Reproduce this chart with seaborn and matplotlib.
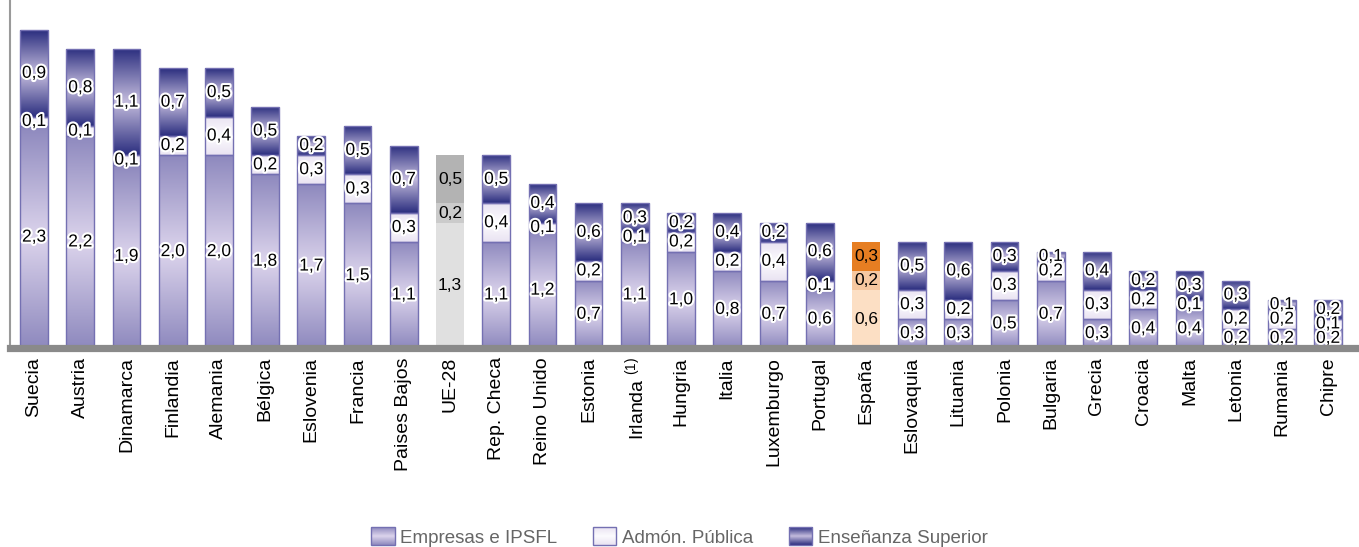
import numpy as np
import pandas as pd
import matplotlib
matplotlib.use("Agg")
import matplotlib.pyplot as plt
import seaborn as sns
from matplotlib.colors import LinearSegmentedColormap
from matplotlib import patheffects as pe
from matplotlib.legend_handler import HandlerBase
from matplotlib.patches import Rectangle
from matplotlib.image import BboxImage
from matplotlib.transforms import Bbox, TransformedBbox

# Gasto en I+D (% del PIB) por sector de ejecución
paises = ["Suecia", "Austria", "Dinamarca", "Finlandia", "Alemania", "Bélgica",
          "Eslovenia", "Francia", "Paises Bajos", "UE-28", "Rep. Checa",
          "Reino Unido", "Estonia", "Irlanda", "Hungria", "Italia", "Luxemburgo",
          "Portugal", "España", "Eslovaquia", "Lituania", "Polonia", "Bulgaria",
          "Grecia", "Croacia", "Malta", "Letonia", "Rumania", "Chipre"]
etiquetas = [p if p != "Irlanda" else r"Irlanda $^{(1)}$" for p in paises]
empresas = [2.3, 2.2, 1.9, 2.0, 2.0, 1.8, 1.7, 1.5, 1.1, 1.3, 1.1, 1.2, 0.7, 1.1,
            1.0, 0.8, 0.7, 0.6, 0.6, 0.3, 0.3, 0.5, 0.7, 0.3, 0.4, 0.4, 0.2, 0.2, 0.2]
admon = [0.1, 0.1, 0.1, 0.2, 0.4, 0.2, 0.3, 0.3, 0.3, 0.2, 0.4, 0.1, 0.2, 0.1,
         0.2, 0.2, 0.4, 0.1, 0.2, 0.3, 0.2, 0.3, 0.2, 0.3, 0.2, 0.1, 0.2, 0.2, 0.1]
ensenanza = [0.9, 0.8, 1.1, 0.7, 0.5, 0.5, 0.2, 0.5, 0.7, 0.5, 0.5, 0.4, 0.6, 0.3,
             0.2, 0.4, 0.2, 0.6, 0.3, 0.5, 0.6, 0.3, 0.1, 0.4, 0.2, 0.3, 0.3, 0.1, 0.2]
series = ["Empresas e IPSFL", "Admón. Pública", "Enseñanza Superior"]

sns.set_style("white")
plt.rcParams["font.family"] = ["Liberation Sans", "DejaVu Sans"]
plt.rcParams["mathtext.fontset"] = "custom"
plt.rcParams["mathtext.rm"] = "Liberation Sans"
plt.rcParams["mathtext.it"] = "Liberation Sans"

EDGE = "#7470b2"
cmaps = [
    LinearSegmentedColormap.from_list("emp", ["#8e89be", "#dcd4ec", "#8e89be"]),
    LinearSegmentedColormap.from_list("adm", ["#e9e3f2", "#fcfbfe", "#e9e3f2"]),
    LinearSegmentedColormap.from_list("ens", ["#2b2e7f", "#c4bcdd", "#2b2e7f"]),
]
especiales = {
    "UE-28": ["#e0e0e0", "#cbcbcb", "#b3b3b3"],
    "España": ["#fcdfc4", "#f6c8a0", "#e67e22"],
}

df = pd.DataFrame({"pais": paises, "empresas": empresas,
                   "admon": admon, "ensenanza": ensenanza})
base_adm = df["empresas"].to_numpy()
base_ens = (df["empresas"] + df["admon"]).to_numpy()

fig = plt.figure(figsize=(13.59, 5.47), dpi=100)
ax = fig.add_axes([10 / 1359, 199 / 547, 1 - 10 / 1359, 348 / 547])

common = dict(x="pais", width=0.6, errorbar=None, saturation=1, ax=ax,
              edgecolor=EDGE, linewidth=1.0, order=paises)
sns.barplot(data=df, y="empresas", color="#8e89be", **common)
sns.barplot(data=df, y="admon", bottom=base_adm, color="#f2eef8", **common)
sns.barplot(data=df, y="ensenanza", bottom=base_ens, color="#2b2e7f", **common)

grad = np.linspace(0, 1, 128).reshape(-1, 1)
valores = [empresas, admon, ensenanza]
for k, cont in enumerate(ax.containers):
    for i, patch in enumerate(cont.patches):
        x0, y0 = patch.get_x(), patch.get_y()
        w, h = patch.get_width(), patch.get_height()
        pais = paises[i]
        if pais in especiales:
            patch.set_facecolor(especiales[pais][k])
            patch.set_edgecolor("none")
            halo = []
        else:
            patch.set_facecolor("none")
            patch.set_zorder(2)
            im = ax.imshow(grad, cmap=cmaps[k], extent=(x0, x0 + w, y0, y0 + h),
                           origin="lower", aspect="auto", zorder=1.5,
                           interpolation="bicubic")
            im.set_clip_path(patch)
            halo = [pe.withStroke(linewidth=3.0, foreground="white")]
        txt = f"{valores[k][i]:.1f}".replace(".", ",")
        ax.text(x0 + w / 2, y0 + h / 2, txt, ha="center", va="center",
                fontsize=12.5, color="black", zorder=5, path_effects=halo)

ax.set_xlim(-0.52, 28.67)
ax.set_ylim(0, 3.61)
ax.set_yticks([])
ax.set_xlabel("")
ax.set_ylabel("")
ax.set_xticks(range(len(paises)))
ax.set_xticklabels(etiquetas, rotation=90, fontsize=14, color="black")
ax.tick_params(axis="x", length=0, pad=6.5)

for s in ["top", "right"]:
    ax.spines[s].set_visible(False)
ax.spines["left"].set_color("#9a9a9a")
ax.spines["left"].set_linewidth(1.5)
ax.spines["bottom"].set_color("#8a8a8a")
ax.spines["bottom"].set_linewidth(5.2)
ax.spines["bottom"].set_zorder(6)


class GradientHandler(HandlerBase):
    def __init__(self, cmap):
        super().__init__()
        self.cmap = cmap

    def create_artists(self, legend, orig_handle, xdescent, ydescent,
                       width, height, fontsize, trans):
        bb = TransformedBbox(Bbox.from_bounds(-xdescent, -ydescent, width, height), trans)
        img = BboxImage(bb, cmap=self.cmap, interpolation="bicubic")
        img.set_data(np.linspace(0, 1, 64).reshape(-1, 1))
        rect = Rectangle((-xdescent, -ydescent), width, height, facecolor="none",
                         edgecolor=EDGE, lw=1.0, transform=trans)
        return [img, rect]


proxies = [Rectangle((0, 0), 1, 1) for _ in series]
leg = fig.legend(proxies, series, loc="lower center", bbox_to_anchor=(0.5, -0.03),
                 ncol=3, frameon=False, fontsize=13.5, handlelength=1.25,
                 handleheight=1.1, handletextpad=0.3, columnspacing=1.9,
                 handler_map={p: GradientHandler(c) for p, c in zip(proxies, cmaps)})
for t in leg.get_texts():
    t.set_color("#666666")

fig.savefig("out.png", dpi=100, facecolor="white")
